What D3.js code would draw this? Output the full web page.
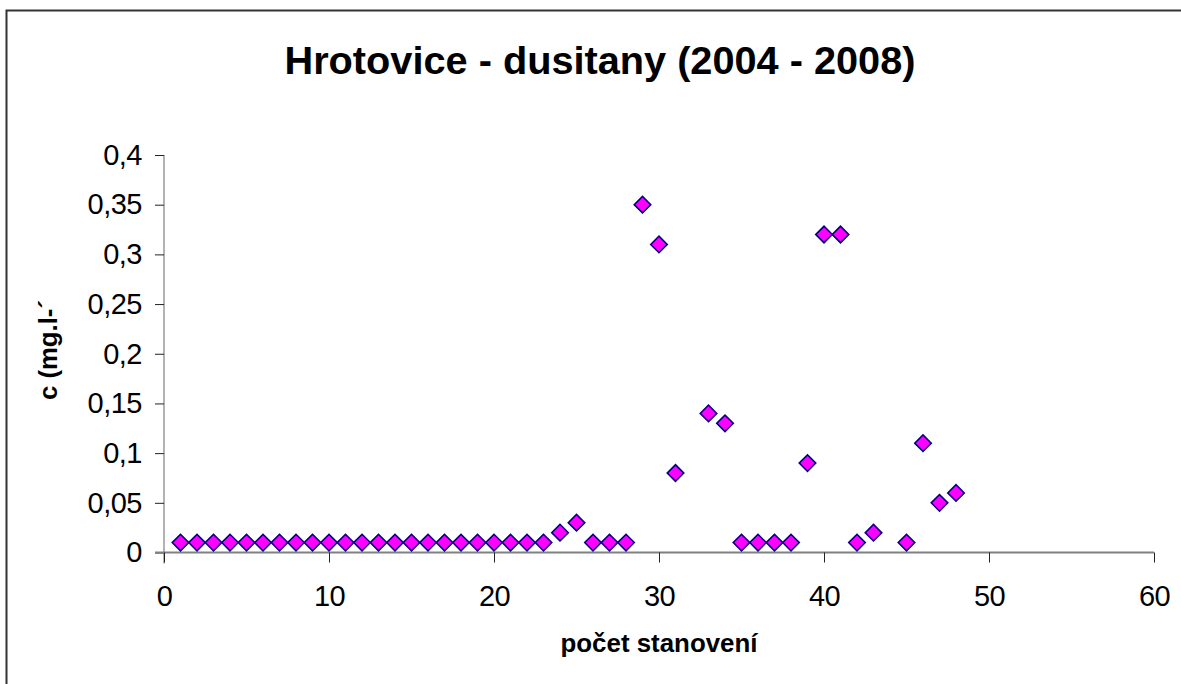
<!DOCTYPE html>
<html>
<head>
<meta charset="utf-8">
<script src="https://cdn.jsdelivr.net/npm/d3@7"></script>
<style>
  html, body { margin: 0; padding: 0; background: #fff; }
  svg { display: block; font-family: "Liberation Sans", Arial, sans-serif; }
</style>
</head>
<body>
<svg id="chart" width="1181" height="684"></svg>
<script>
// ---- data ----
const xValues = [1,2,3,4,5,6,7,8,9,10,11,12,13,14,15,16,17,18,19,20,21,22,23,24,25,26,27,28,29,30,31,33,34,35,36,37,38,39,40,41,42,43,45,46,47,48];
const yValues = [0.01,0.01,0.01,0.01,0.01,0.01,0.01,0.01,0.01,0.01,0.01,0.01,0.01,0.01,0.01,0.01,0.01,0.01,0.01,0.01,0.01,0.01,0.01,0.02,0.03,0.01,0.01,0.01,0.35,0.31,0.08,0.14,0.13,0.01,0.01,0.01,0.01,0.09,0.32,0.32,0.01,0.02,0.01,0.11,0.05,0.06];
const xTicks = [0,10,20,30,40,50,60];
const yTicks = [0,0.05,0.1,0.15,0.2,0.25,0.3,0.35,0.4];
const titleText = "Hrotovice - dusitany (2004 - 2008)";
const xLabel = "počet stanovení";
const yLabel = "c (mg.l-´";

const svg = d3.select("#chart");

// outer frame (right/bottom edges run past the picture)
svg.append("rect")
  .attr("x", 6.5).attr("y", 10.5)
  .attr("width", 1200).attr("height", 700)
  .attr("fill", "#fff").attr("stroke", "#333").attr("stroke-width", 2);

const x = d3.scaleLinear().domain([0, 60]).range([164, 1154]);
const y = d3.scaleLinear().domain([0, 0.4]).range([552.5, 155]);
const fmt = d => String(d).replace(".", ",");

// y axis
const yAxis = svg.append("g")
  .attr("transform", `translate(${x(0)},0)`)
  .call(d3.axisLeft(y).tickValues(yTicks).tickFormat(fmt).tickSize(9).tickPadding(13));
yAxis.select(".domain").attr("stroke", "#808080").attr("stroke-width", 1.2)
  .attr("d", `M0,${y(0.4)}V${y(0) + 11}`);
yAxis.selectAll(".tick line").attr("stroke", "#222").attr("stroke-width", 1);
yAxis.selectAll(".tick text").attr("font-size", 29).attr("fill", "#000")
  .attr("letter-spacing", -0.5)
  .attr("font-family", "Liberation Sans, Arial, sans-serif");

// x axis
const xAxis = svg.append("g")
  .attr("transform", `translate(0,${y(0)})`)
  .call(d3.axisBottom(x).tickValues(xTicks).tickFormat(fmt).tickSize(10).tickPadding(23));
xAxis.select(".domain").attr("stroke", "#808080").attr("stroke-width", 2)
  .attr("d", `M${x(0) - 9},0H${x(60)}`);
xAxis.selectAll(".tick line").attr("stroke", "#222").attr("stroke-width", 1);
xAxis.selectAll(".tick text").attr("font-size", 29).attr("fill", "#000")
  .attr("letter-spacing", -0.5)
  .attr("font-family", "Liberation Sans, Arial, sans-serif");

// points
const diamond = d3.symbol().type(d3.symbolSquare).size(136);
svg.append("g").selectAll("path")
  .data(xValues.map((v, i) => ({x: v, y: yValues[i]})))
  .join("path")
  .attr("d", diamond)
  .attr("transform", d => `translate(${x(d.x)},${y(d.y)}) rotate(45)`)
  .attr("fill", "#FF00FF")
  .attr("stroke", "#000080")
  .attr("stroke-width", 1.6);

// title
svg.append("text")
  .attr("x", 600).attr("y", 74)
  .attr("text-anchor", "middle")
  .attr("font-size", 38).attr("font-weight", "bold")
  .attr("textLength", 631).attr("lengthAdjust", "spacingAndGlyphs")
  .text(titleText);

// x label
svg.append("text")
  .attr("x", 659).attr("y", 652)
  .attr("text-anchor", "middle")
  .attr("font-size", 26).attr("font-weight", "bold")
  .attr("textLength", 197).attr("lengthAdjust", "spacingAndGlyphs")
  .text(xLabel);

// y label
svg.append("text")
  .attr("transform", "translate(57,350) rotate(-90)")
  .attr("text-anchor", "middle")
  .attr("font-size", 26).attr("font-weight", "bold")
  .attr("textLength", 100).attr("lengthAdjust", "spacingAndGlyphs")
  .text(yLabel);
</script>
</body>
</html>
